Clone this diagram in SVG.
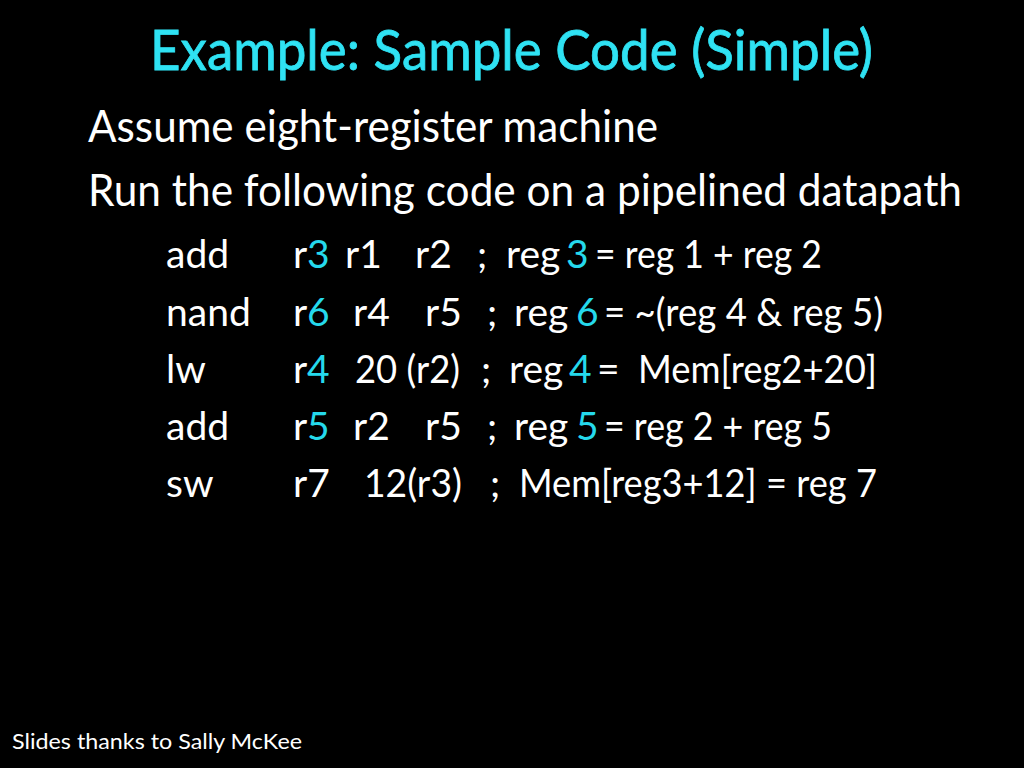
<svg xmlns="http://www.w3.org/2000/svg" width="1024" height="768" viewBox="0 0 1024 768">
<style>
text{font-family:Lato,"Open Sans","Liberation Sans",sans-serif;fill:#fff}
.t{font-size:56px;fill:#2FE2F3;stroke:#2FE2F3;stroke-width:0.8}
.b{font-size:45px}
.c{font-size:39px}
.h{fill:#25D9EC}
.f{font-size:21px}
</style>
<rect width="1024" height="768" fill="#000"/>
<g id="title"><text class="t" x="150" y="70" textLength="723" lengthAdjust="spacingAndGlyphs">Example: Sample Code (Simple)</text></g>
<g id="bullets">
<text class="b" x="88" y="142" textLength="570" lengthAdjust="spacingAndGlyphs">Assume eight-register machine</text>
<text class="b" x="88" y="206" textLength="874" lengthAdjust="spacingAndGlyphs">Run the following code on a pipelined datapath</text>
</g>
<g id="code" class="c">
<text class="c" y="268"><tspan x="166">add</tspan><tspan x="293">r</tspan><tspan x="307" class="h">3</tspan><tspan x="345">r1</tspan><tspan x="415">r2</tspan><tspan x="477">;</tspan><tspan x="506">reg</tspan><tspan x="566" class="h">3</tspan></text>
<text class="c" x="595" y="268" textLength="227" lengthAdjust="spacingAndGlyphs">= reg 1 + reg 2</text>
<text class="c" y="326"><tspan x="166">nand</tspan><tspan x="293">r</tspan><tspan x="307" class="h">6</tspan><tspan x="353">r4</tspan><tspan x="425">r5</tspan><tspan x="487">;</tspan><tspan x="514">reg</tspan><tspan x="576" class="h">6</tspan></text>
<text class="c" x="604" y="326" textLength="279" lengthAdjust="spacingAndGlyphs">= ~(reg 4 &amp; reg 5)</text>
<text class="c" y="383"><tspan x="166">lw</tspan><tspan x="293">r</tspan><tspan x="307" class="h">4</tspan><tspan x="481">;</tspan><tspan x="509">reg</tspan><tspan x="569" class="h">4</tspan><tspan x="597">=</tspan></text>
<text class="c" x="355" y="383" textLength="105" lengthAdjust="spacingAndGlyphs">20 (r2)</text>
<text class="c" x="638" y="383" textLength="239" lengthAdjust="spacingAndGlyphs">Mem[reg2+20]</text>
<text class="c" y="440"><tspan x="166">add</tspan><tspan x="293">r</tspan><tspan x="307" class="h">5</tspan><tspan x="353">r2</tspan><tspan x="425">r5</tspan><tspan x="487">;</tspan><tspan x="514">reg</tspan><tspan x="576" class="h">5</tspan></text>
<text class="c" x="604" y="440" textLength="228" lengthAdjust="spacingAndGlyphs">= reg 2 + reg 5</text>
<text class="c" y="497"><tspan x="166">sw</tspan><tspan x="293">r7</tspan><tspan x="490">;</tspan></text>
<text class="c" x="364" y="497" textLength="98" lengthAdjust="spacingAndGlyphs">12(r3)</text>
<text class="c" x="519" y="497" textLength="358" lengthAdjust="spacingAndGlyphs">Mem[reg3+12] = reg 7</text>
</g>
<g id="footer"><text class="f" x="12" y="749" textLength="290" lengthAdjust="spacingAndGlyphs">Slides thanks to Sally McKee</text></g>
</svg>
